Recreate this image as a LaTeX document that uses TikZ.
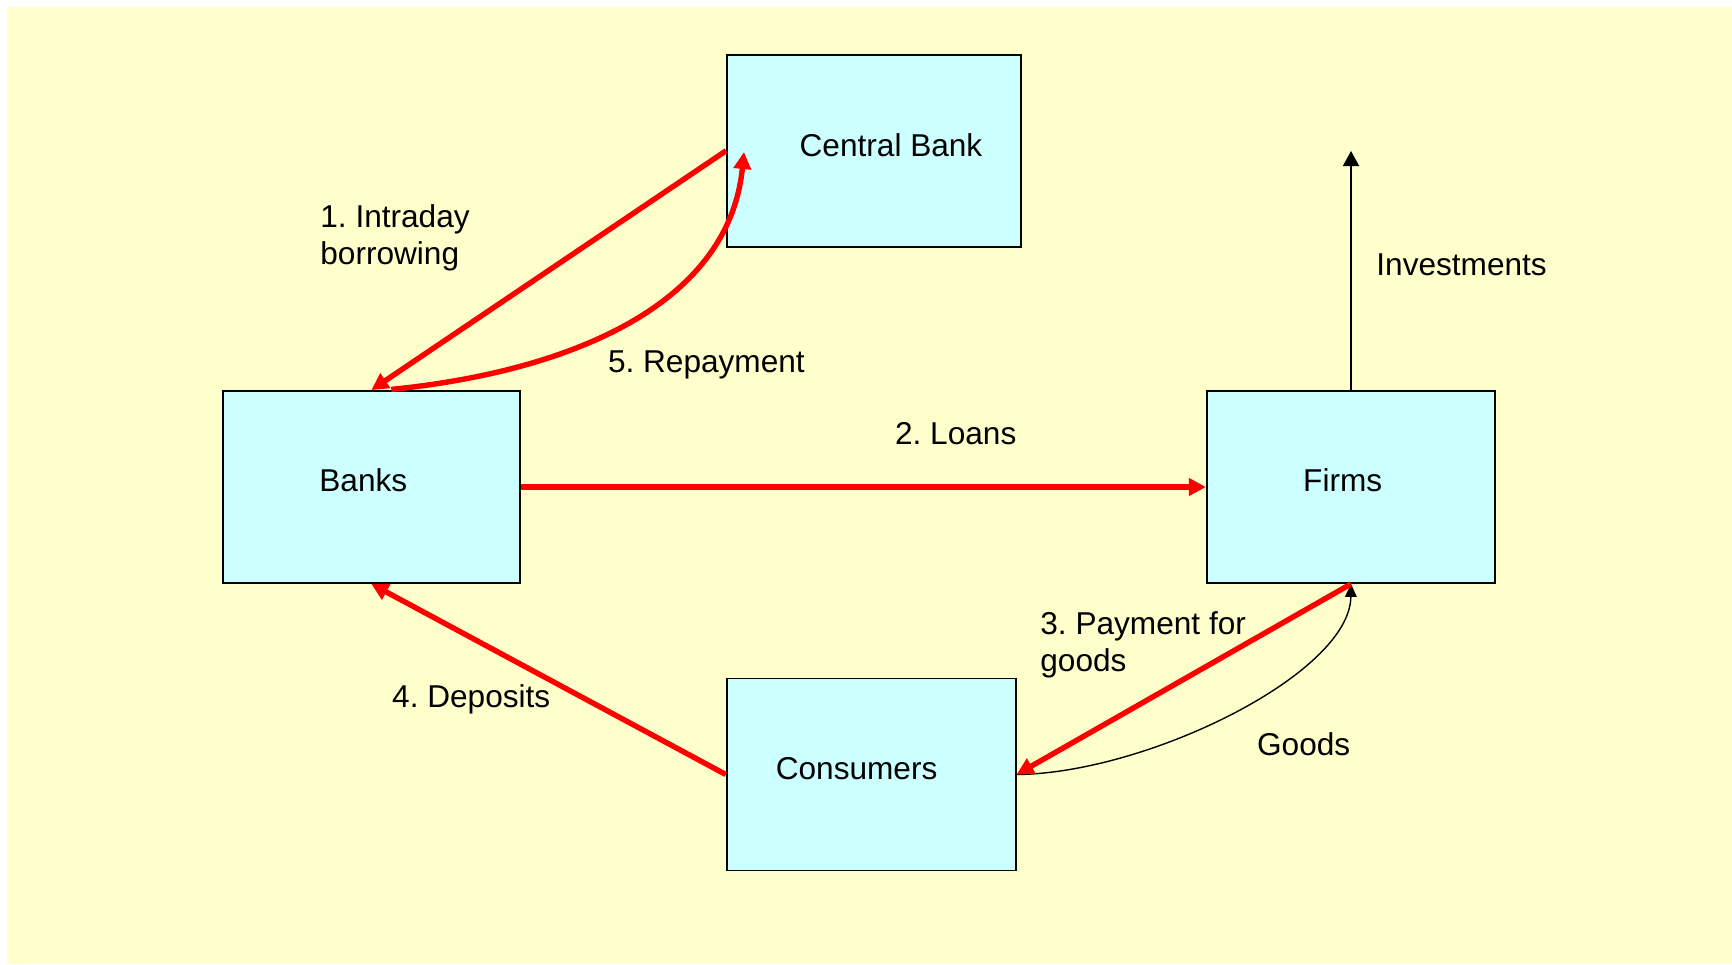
\documentclass[tikz,border=0pt]{standalone}
\usepackage{fontspec}
\setmainfont{Liberation Sans}
\usetikzlibrary{arrows.meta,calc}
\definecolor{bgyellow}{HTML}{FFFFCC}
\definecolor{boxcyan}{HTML}{CCFFFF}
\definecolor{arrred}{HTML}{FF0000}
\begin{document}
\begin{tikzpicture}[x=0.5pt,y=-0.5pt,
  font=\fontsize{15.8}{18.2}\selectfont\frenchspacing,
  box/.style={draw=black,line width=0.9pt,fill=boxcyan,minimum height=96pt,inner sep=0pt},
  lbl/.style={anchor=base west,inner sep=0pt,align=left},
  redarrow/.style={draw=arrred,line width=2.7pt,-{Triangle[length=8.5pt,width=8.5pt]}},
  blackarrow/.style={draw=black,line width=0.8pt,-{Triangle[length=7.5pt,width=8pt]}},
  goodsarrow/.style={draw=black,line width=0.7pt,-{Triangle[length=6.5pt,width=5.8pt]}}]
\useasboundingbox (0,0) rectangle (1732,964);
\fill[white] (0,0) rectangle (1732,964);
\fill[bgyellow] (7,7) rectangle (1732,964);

\node[box,minimum width=147pt,label={[xshift=8.5pt,yshift=2.85pt]center:Central Bank}] (cb) at (874,150.7) {};
\node[box,minimum width=148.6pt,label={[xshift=-4pt,yshift=3.2pt]center:Banks}] (banks) at (371.3,487) {};
\node[box,minimum width=144.2pt,label={[xshift=-4.15pt,yshift=3.3pt]center:Firms}] (firms) at (1351,487) {};
\node[box,minimum width=144.5pt,label={[xshift=-7.3pt,yshift=2.9pt]center:Consumers}] (cons) at (871.2,774.5) {};

\coordinate (cbin) at (744,152);
\coordinate (inv) at (1351,151);

\node[lbl] (l1) at (320,264) {1. Intraday\\borrowing};
\node[lbl] (l5) at (607.6,372.7) {5. Repayment};
\node[lbl] (l2) at (894.7,444.5) {2. Loans};
\node[lbl] (l3) at (1040,671) {3. Payment for\\goods};
\node[lbl] (l4) at (391.8,707.7) {4. Deposits};
\node[lbl] (lg) at (1256.7,755) {Goods};
\node[lbl] (li) at (1376,275.7) {Investments};

\draw[redarrow] (cb.west) -- (banks.north);
\draw[redarrow] ($(banks.north)+(20,-0.7)$) .. controls ($(banks.north)+(194.7,-18.2)$) and ($(cbin)+(-15.5,155)$) .. (cbin);
\draw[redarrow] (banks.east) -- (firms.west);
\draw[goodsarrow] (cons.east) .. controls ($(cons.east)+(130,-1)$) and ($(firms.south)+(-1,90)$) .. (firms.south);
\draw[redarrow] (firms.south) -- (cons.east);
\draw[redarrow] (cons.west) -- (banks.south);
\draw[blackarrow] (firms.north) -- (inv);
\end{tikzpicture}
\end{document}
